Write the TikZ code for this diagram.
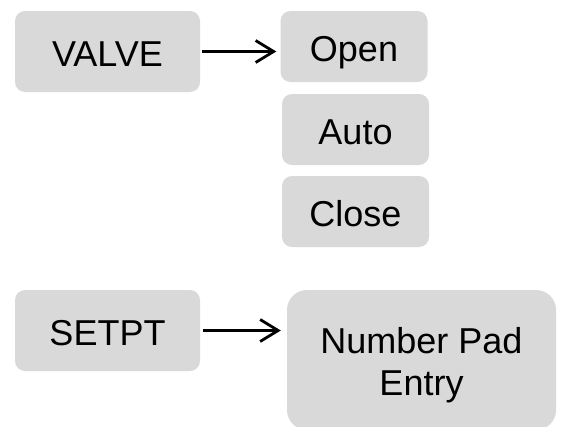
\documentclass[tikz,border=0pt]{standalone}
\usepackage{fontspec}
\setmainfont{Liberation Sans}
\usetikzlibrary{arrows.meta}
\definecolor{boxgray}{HTML}{D9D9D9}
\tikzset{
  box/.style={fill=boxgray, rounded corners=10pt, inner sep=0pt,
    font=\fontsize{36}{42}\selectfont, text height=30pt, text depth=0pt},
  bigbox/.style={box, minimum width=185pt, minimum height=81pt},
  smallbox/.style={box, minimum width=147pt, minimum height=71pt},
  padbox/.style={fill=boxgray, rounded corners=20pt, inner sep=0pt,
    minimum width=269pt, minimum height=140pt},
  padtext/.style={inner sep=0pt, align=center, text depth=0pt,
    font=\fontsize{36}{42}\selectfont},
  conn/.style={line width=2.8pt, -{Straight Barb[length=18pt,width=22pt]}}
}
\begin{document}
\begin{tikzpicture}[x=1pt,y=-1pt]
  \useasboundingbox (0,0) rectangle (561,426);
  \clip (0,0) rectangle (561,426);
  \node[bigbox] (valve) at (107.5,51.5) {VALVE};
  \node[smallbox] (open) at (354,46.5) {Open};
  \node[smallbox] (auto) at (355.5,129.5) {Auto};
  \node[smallbox] (close) at (355.5,211.5) {Close};
  \node[bigbox] (setpt) at (107.5,330.5) {SETPT};
  \node[padbox] (pad) at (421.5,360) {};
  \node[padtext, anchor=north] (padlabel) at (421.5,327.5) {Number Pad\\Entry};
  \draw[conn] ([xshift=2pt]valve.east) -- ([xshift=-4pt]valve.east -| open.west);
  \draw[conn] ([xshift=3pt]setpt.east) -- ([xshift=-6pt]setpt.east -| pad.west);
\end{tikzpicture}
\end{document}
